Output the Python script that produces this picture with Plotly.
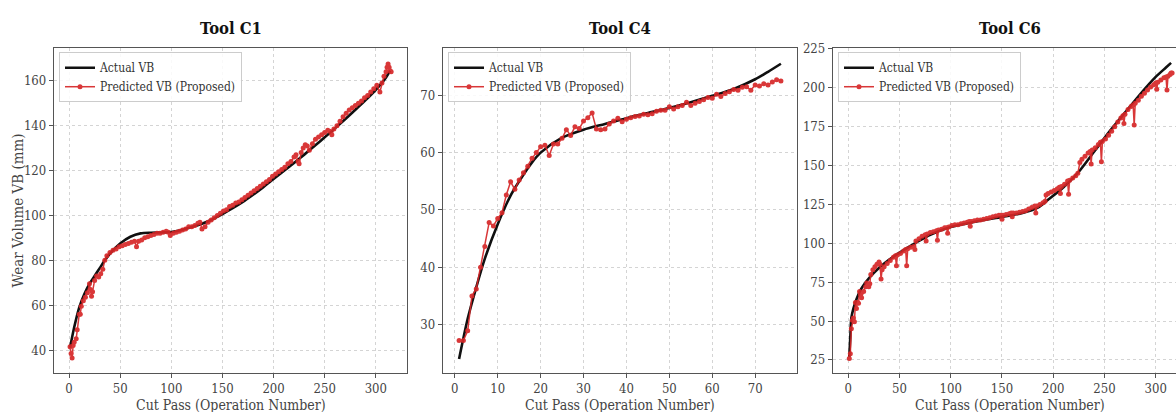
import plotly.graph_objects as go

# ---------------- DATA ----------------
# Tool C1
c1_actual_x = [1, 5, 10, 15, 20, 25, 30, 35, 40, 50, 60, 70, 80, 90, 100, 110, 120, 130, 140, 150,
               160, 170, 180, 190, 200, 210, 220, 230, 240, 250, 260, 270, 280, 290, 300, 310, 314]
c1_actual_y = [41, 50, 59, 65, 69.5, 73, 76.5, 80, 83, 87.5, 90.5, 92, 92.3, 92.4, 92.6, 93.5, 94.8, 96.3, 98.2, 100.6,
               103.2, 106, 109.2, 112.6, 116.2, 119.8, 123.4, 127.1, 130.9, 134.8, 138.8, 142.9, 147.1, 151.4, 156, 161.5, 164.5]
c1_pred_x = [1, 2, 3, 4, 5, 7, 8, 10, 11, 12, 14, 16, 18, 20, 21, 22, 23, 25, 27, 29, 31, 33, 35, 37, 40, 43, 46, 49,
             52, 55, 58, 61, 64, 66, 68, 71, 74, 77, 80, 83, 86, 89, 92, 95, 97, 99, 102, 105, 108, 111, 114, 117,
             120, 123, 126, 128, 130, 133, 136, 139, 142, 145, 148, 151, 154, 157, 160, 163, 166, 169, 172, 175,
             178, 181, 184, 187, 190, 193, 196, 199, 202, 205, 208, 211, 214, 217, 220, 222, 224, 225, 227, 229,
             231, 233, 235, 238, 241, 244, 247, 250, 253, 255, 257, 259, 262, 265, 268, 271, 274, 277, 280, 283,
             286, 289, 292, 295, 298, 301, 304, 306, 308, 310, 311, 312, 313, 314, 315]
c1_pred_y = [41.5, 38.5, 36.5, 42, 43.5, 45, 49, 56, 56, 59.5, 62, 63.5, 65.5, 69.5, 67, 64, 66, 71, 73, 72.5, 74, 76,
             80, 82, 83.5, 84.5, 85, 86, 86.5, 87, 87.5, 88, 88.5, 86, 88.5, 89, 90, 90.5, 91, 91.5, 92, 92, 92.5,
             93, 92.5, 91, 92, 92.5, 93, 93.5, 94, 95, 95, 95.5, 96.5, 97, 94, 95, 97, 98, 99, 100, 101, 102, 102.5,
             104, 104.5, 105.5, 106, 107, 108, 109, 110, 111, 112, 113, 114, 115, 116, 117.5, 118.5, 119.5, 120.5,
             121.5, 123, 124, 126, 127, 124, 123, 128, 130, 131.5, 131, 129, 132, 134, 135, 136, 137, 138, 137.5,
             136, 138.5, 140, 142, 144, 145.5, 147, 148, 149, 150, 151, 152.5, 153.5, 155, 156.5, 158, 155, 159,
             162, 164, 166, 167.5, 166, 164.5, 164]

# Tool C4
c4_actual_x = [1, 3, 5, 7, 10, 13, 15, 18, 20, 25, 30, 35, 40, 45, 50, 55, 60, 65, 70, 73, 76]
c4_actual_y = [24, 31, 36.5, 41.5, 47.5, 52.5, 55, 58.3, 60, 62.6, 64, 65, 66, 66.9, 67.8, 68.8, 69.9, 71.1, 72.8, 74.1, 75.5]
c4_pred_x = list(range(1, 77))
c4_pred_y = [27.2, 27.2, 28.9, 35, 36.2, 40, 43.6, 47.8, 47.2, 48.5, 49.5, 52.6, 54.9, 53.6, 55.2, 56.5, 57.6,
             59, 60, 61, 61.3, 59.5, 61.5, 61.5, 62.5, 64, 63, 64.5, 64.2, 65.5, 66.1, 66.9, 64.1, 64, 64.1,
             65, 65.5, 66, 65.4, 65.8, 66.1, 66.3, 66.4, 66.7, 66.6, 66.8, 67.2, 67.4, 67.4, 68, 67.6, 68,
             68.2, 68.8, 68.2, 68.6, 68.9, 69.2, 69.6, 69.5, 70.2, 69.8, 70.3, 70.6, 71, 70.9, 71.4, 71.5,
             70.9, 71.8, 71.6, 72, 71.8, 72.3, 72.7, 72.5]

# Tool C6
c6_actual_x = [1, 2, 3, 5, 8, 12, 17, 25, 35, 50, 65, 80, 100, 125, 150, 170, 185, 195, 210, 225, 240, 255,
               270, 285, 300, 310, 315]
c6_actual_y = [27, 40, 52, 58, 64, 70, 75, 81, 87, 94, 100, 105.5, 110.5, 114, 117, 119.5, 123, 128, 136, 146,
               159, 172, 184, 196, 207, 213, 216]
c6_pred_x = [1, 2, 3, 4, 5, 6, 7, 8, 9, 10, 11, 12, 13, 15, 17, 18, 20, 21, 22, 24, 26, 28, 30, 31, 32, 33, 35,
             38, 41, 44, 46, 47, 48, 51, 54, 56, 57, 58, 61, 64, 65, 66, 69, 72, 75, 76, 77, 80, 83, 86, 87, 88,
             91, 94, 96, 97, 98, 101, 104, 107, 110, 113, 116, 118, 119, 120, 123, 126, 129, 132, 135, 138, 141,
             144, 147, 149, 150, 151, 154, 157, 159, 160, 161, 164, 167, 170, 173, 176, 179, 182, 183, 184, 187,
             190, 192, 193, 195, 198, 201, 204, 206, 207, 208, 211, 214, 215, 216, 219, 222, 224, 226, 228, 231,
             234, 236, 237, 238, 241, 244, 246, 247, 248, 251, 254, 257, 260, 263, 266, 268, 269, 270, 273, 276,
             278, 279, 280, 283, 286, 289, 292, 295, 298, 300, 301, 302, 305, 308, 310, 311, 312, 314, 315, 316]
c6_pred_y = [26, 29, 45, 50.5, 52, 49.5, 62, 58, 62, 61.5, 69, 67, 65, 69, 72, 74.5, 72, 74, 80, 83, 85, 86.5,
             88, 86.5, 77, 83, 85, 87, 89, 91, 92, 85.5, 92.5, 93.5, 95, 96, 85.5, 96.5, 97.5, 98, 96, 101.5, 103,
             104.5, 105.5, 101.5, 106, 107, 107.5, 108, 102, 108.5, 109, 110, 110, 106.5, 110.5, 111.5, 112, 112,
             112.5, 113, 113.5, 114, 111, 114, 114.5, 115, 115, 115.5, 116, 116.5, 117, 117.5, 118, 118, 115.5,
             118, 118.5, 119, 119.5, 117, 119.5, 119.5, 120, 120.5, 121, 122, 123, 124, 119.5, 124, 125, 126, 127,
             131, 132, 133, 134, 135, 136, 132, 136.5, 138, 140, 131.5, 140.5, 142, 143.5, 145, 152, 154, 156, 158,
             159, 151, 160, 161.5, 163.5, 165, 152.5, 165.5, 167, 169.5, 172, 175, 178, 180.5, 182, 177, 183, 186,
             188, 189, 176, 190, 192, 194.5, 196.5, 198.5, 200.5, 202, 203, 199, 203.5, 205, 206.5, 207, 198.5,
             207.5, 208.5, 209.5, 209.5]

titles = ["Tool C1", "Tool C4", "Tool C6"]
x_label = "Cut Pass (Operation Number)"
y_label = "Wear Volume VB (mm)"

# ---------------- LAYOUT CONSTANTS ----------------
W, H = 1176, 412
FONT = "DejaVu Serif Condensed, Liberation Serif, serif"
RED = "#d62728"
x_doms = [(54, 407), (443, 797), (833, W)]
y_dom = [1 - 372 / H, 1 - 42 / H]
x_ranges = [[-14.7, 330.5], [-2.75, 79.75], [-14.9, 319.8]]
y_ranges = [[29.9, 174.5], [21.6, 78.2], [16.8, 225.4]]
x_dticks = [50, 10, 50]
y_ticks = [[40, 60, 80, 100, 120, 140, 160], [30, 40, 50, 60, 70], [25, 50, 75, 100, 125, 150, 175, 200, 225]]

series = [(c1_actual_x, c1_actual_y, c1_pred_x, c1_pred_y),
          (c4_actual_x, c4_actual_y, c4_pred_x, c4_pred_y),
          (c6_actual_x, c6_actual_y, c6_pred_x, c6_pred_y)]

fig = go.Figure()
annotations = []
for i, (ax, ay, px, py) in enumerate(series):
    n = "" if i == 0 else str(i + 1)
    leg = "legend" + n
    fig.add_trace(go.Scatter(x=ax, y=ay, mode="lines", name="Actual VB",
                             line=dict(color="#111111", width=2.6, shape="spline", smoothing=0.8),
                             xaxis="x" + n, yaxis="y" + n, legend=leg))
    fig.add_trace(go.Scatter(x=px, y=py, mode="lines+markers", name="Predicted VB (Proposed)",
                             line=dict(color=RED, width=1.5),
                             marker=dict(color=RED, size=5),
                             opacity=0.92,
                             xaxis="x" + n, yaxis="y" + n, legend=leg))
    x0, x1 = x_doms[i]
    axis_common = dict(showline=True, linecolor="#555555", linewidth=1.3,
                       showgrid=True, gridcolor="#d4d4d4", griddash="3px,3px", gridwidth=1,
                       ticks="outside", ticklen=4, tickcolor="#555555", zeroline=False,
                       tickfont=dict(family=FONT, size=13, color="#444444"))
    fig.update_layout({
        "xaxis" + n: dict(domain=[x0 / W, x1 / W], range=x_ranges[i], dtick=x_dticks[i], tick0=0,
                          anchor="y" + n, mirror=True, **axis_common),
        "yaxis" + n: dict(domain=y_dom, range=y_ranges[i], tickvals=y_ticks[i],
                          anchor="x" + n, mirror=(i < 2), **axis_common),
        leg: dict(x=(x0 + 5) / W, y=1 - 46 / H, xanchor="left", yanchor="top",
                  bgcolor="rgba(255,255,255,0.85)", bordercolor="#cccccc", borderwidth=1,
                  font=dict(family=FONT, size=12, color="#333333"),
                  tracegroupgap=2, itemwidth=30),
    })
    cx = (x0 + x1) / 2 / W
    if i == 2:
        cx = (833 + 1186) / 2 / W
    annotations.append(dict(text="<b>" + titles[i] + "</b>", x=cx, y=1 - 22 / H, xref="paper", yref="paper",
                            xanchor="center", yanchor="middle",
                            showarrow=False, font=dict(family=FONT, size=16.5, color="#111111")))
    annotations.append(dict(text=x_label, x=cx, y=1 - 405 / H, xref="paper", yref="paper",
                            xanchor="center", yanchor="middle",
                            showarrow=False, font=dict(family=FONT, size=14, color="#444444")))

annotations.append(dict(text=y_label, x=18 / W, y=1 - 207 / H, xref="paper", yref="paper", textangle=-90,
                        xanchor="center", yanchor="middle",
                        showarrow=False, font=dict(family=FONT, size=15, color="#444444")))

fig.update_layout(width=W, height=H, margin=dict(l=0, r=0, t=0, b=0),
                  paper_bgcolor="white", plot_bgcolor="white",
                  annotations=annotations, showlegend=True)

fig.write_html("out.html")
